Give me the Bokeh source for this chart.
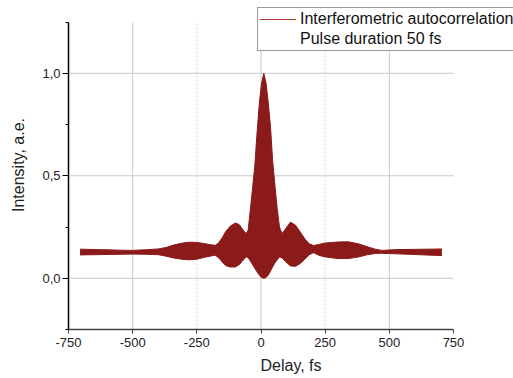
from bokeh.plotting import figure
from bokeh.models import Legend, LegendItem, FixedTicker, Range1d, ColumnDataSource, Title
from bokeh.embed import file_html
from bokeh.resources import INLINE

# Envelope of the interferometric autocorrelation trace
delay = [-705, -650, -600, -550, -500, -450, -400, -370, -340, -310, -280, -250,
         -220, -195, -178, -165, -150, -138, -120, -100, -85, -70, -58, -50,
         -42, -32, -24, -16, -6, 2, 11, 20, 28, 37, 45, 53, 63, 72, 82, 95,
         115, 135, 155, 172, 188, 205, 225, 250, 300, 340, 380, 414, 445, 470,
         530, 600, 650, 705]
upper = [0.142, 0.140, 0.139, 0.137, 0.136, 0.139, 0.143, 0.150, 0.162, 0.171, 0.176, 0.175,
         0.169, 0.163, 0.161, 0.172, 0.200, 0.227, 0.254, 0.270, 0.262, 0.236, 0.218, 0.235,
         0.33, 0.45, 0.55, 0.70, 0.86, 0.95, 1.0, 0.95, 0.86, 0.74, 0.58, 0.47, 0.34, 0.25, 0.218, 0.240,
         0.274, 0.258, 0.222, 0.190, 0.168, 0.160, 0.165, 0.172, 0.177, 0.178, 0.168, 0.154, 0.142, 0.136,
         0.140, 0.141, 0.142, 0.143]
lower = [0.114, 0.115, 0.116, 0.117, 0.118, 0.117, 0.115, 0.108, 0.099, 0.093, 0.090, 0.093,
         0.102, 0.109, 0.112, 0.100, 0.078, 0.062, 0.055, 0.055, 0.066, 0.088, 0.105, 0.100,
         0.085, 0.065, 0.048, 0.032, 0.015, 0.004, 0.0, 0.004, 0.015, 0.035, 0.055, 0.072, 0.090, 0.104, 0.100, 0.082,
         0.060, 0.058, 0.074, 0.095, 0.115, 0.125, 0.112, 0.104, 0.096, 0.096, 0.104, 0.115, 0.121, 0.122,
         0.119, 0.116, 0.113, 0.111]

x_ticks = [-750, -500, -250, 0, 250, 500, 750]
x_labels = {-750: "-750", -500: "-500", -250: "-250", 0: "0", 250: "250", 500: "500", 750: "750"}
x_grid_solid = [-500, 0, 500]
x_grid_dotted = [-250, 250]
y_major = [0.0, 0.5, 1.0]
y_minor = [-0.25, 0.25, 0.75, 1.25]
y_labels = {0.0: "0,0", 0.5: "0,5", 1.0: "1,0"}

series_name = "Interferometric autocorrelation"
note = "Pulse duration 50 fs"

color = "#8B1A1A"
legend_color = "#B04030"
font = "Liberation Sans"
grid_color = "#c8c8c8"

# axis extents and the pixel layout
X0, X1 = -750, 750
Y0, Y1 = -0.25, 1.25
W, H = 513, 378
left, bottom = 68, 47
axis_px_w = 385          # pixels from -750 to 750
axis_px_h = 309.3        # pixels from -0.25 to 1.25
frame_w = W - left
frame_h = H - bottom
x_end = X0 + (X1 - X0) * frame_w / axis_px_w
y_end = Y0 + (Y1 - Y0) * frame_h / axis_px_h

src = ColumnDataSource(dict(x=delay, up=upper, lo=lower))

p = figure(width=W, height=H, output_backend="svg", toolbar_location=None,
           x_range=Range1d(X0, x_end), y_range=Range1d(Y0, y_end),
           min_border_left=left, min_border_right=0, min_border_top=0, min_border_bottom=bottom)
p.outline_line_color = None
p.background_fill_color = "white"
p.xgrid.visible = False
p.ygrid.visible = False

# grid lines limited to the axes' extent
p.segment(x0=x_grid_solid, y0=[Y0] * len(x_grid_solid), x1=x_grid_solid, y1=[Y1] * len(x_grid_solid),
          line_color=grid_color, line_width=1)
p.segment(x0=x_grid_dotted, y0=[Y0] * len(x_grid_dotted), x1=x_grid_dotted, y1=[Y1] * len(x_grid_dotted),
          line_color="#d4d4d4", line_width=1, line_dash="2 2")
p.segment(x0=[X0] * len(y_major), y0=y_major, x1=[X1] * len(y_major), y1=y_major,
          line_color=grid_color, line_width=1)

p.varea(x="x", y1="lo", y2="up", source=src, fill_color=color)
p.line(x="x", y="up", source=src, line_color=color, line_width=1)
p.line(x="x", y="lo", source=src, line_color=color, line_width=1)
# legend-only renderers (a single point draws no visible line)
r_key = p.line(x=[0], y=[0], line_color=legend_color, line_width=1.2)
r_blank = p.line(x=[0], y=[0], line_alpha=0)

# x axis
xa = p.xaxis[0]
xa.bounds = (X0, X1)
xa.ticker = FixedTicker(ticks=x_ticks)
xa.major_label_overrides = x_labels
xa.axis_line_color = "#444444"
xa.axis_line_width = 1.5
xa.major_tick_line_color = "#444444"
xa.major_tick_out = 4
xa.major_tick_in = 0
xa.minor_tick_line_color = None
xa.major_label_standoff = 4
xa.major_label_text_font = font
xa.major_label_text_font_size = "13px"
xa.major_label_text_color = "#222222"

p.add_layout(Title(text="Delay, fs", align="center", offset=-30, standoff=10,
                   text_font=font, text_font_size="16px", text_font_style="normal",
                   text_color="#222222"), "below")

# y axis
ya = p.yaxis[0]
ya.bounds = (Y0, Y1)
ya.ticker = FixedTicker(ticks=y_major, minor_ticks=y_minor)
ya.major_label_overrides = y_labels
ya.axis_label = "Intensity, a.e."
ya.axis_line_color = "black"
ya.axis_line_width = 1.5
ya.major_tick_line_color = "black"
ya.minor_tick_line_color = "black"
ya.major_tick_out = 6
ya.major_tick_in = 0
ya.minor_tick_out = 3
ya.minor_tick_in = 0
ya.major_label_standoff = 2
ya.axis_label_standoff = 12
ya.major_label_text_font = font
ya.major_label_text_font_size = "13px"
ya.major_label_text_color = "#222222"
ya.axis_label_text_font = font
ya.axis_label_text_font_size = "16px"
ya.axis_label_text_font_style = "normal"
ya.axis_label_text_color = "#222222"

legend = Legend(items=[LegendItem(label=series_name, renderers=[r_key]),
                       LegendItem(label=note, renderers=[r_blank])],
                location=(189, 278), orientation="vertical",
                label_text_font=font, label_text_font_size="16px", label_text_color="#111111",
                glyph_width=37, glyph_height=20, label_height=20, label_standoff=4,
                padding=1, spacing=0, margin=0,
                border_line_color="#333333", border_line_width=1,
                background_fill_color="white", background_fill_alpha=1.0)
p.add_layout(legend, "center")

open("out.html", "w").write(file_html(p, INLINE))
